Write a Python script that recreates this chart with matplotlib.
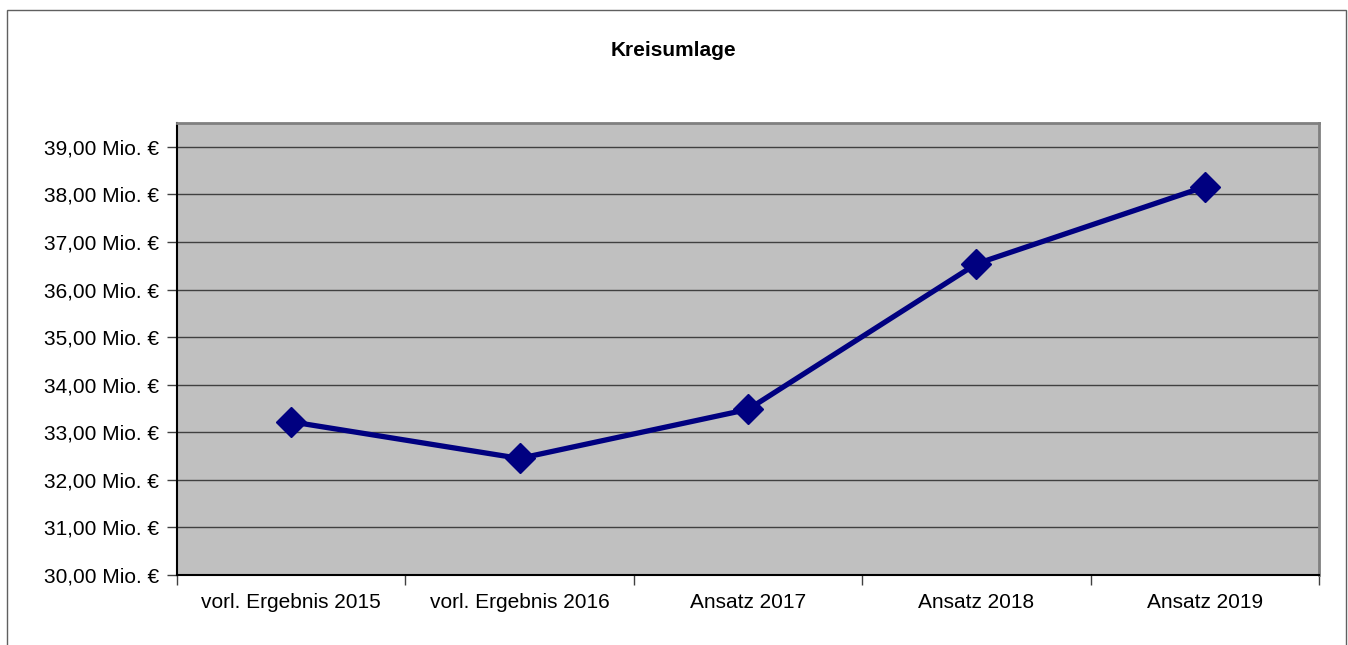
import matplotlib
matplotlib.use("Agg")
import matplotlib.pyplot as plt
from matplotlib.ticker import FixedLocator, FuncFormatter
from matplotlib.patches import Rectangle

categories = ["vorl. Ergebnis 2015", "vorl. Ergebnis 2016", "Ansatz 2017", "Ansatz 2018", "Ansatz 2019"]
values = [33.22, 32.45, 33.48, 36.54, 38.16]
y_ticks = [30, 31, 32, 33, 34, 35, 36, 37, 38, 39]
title = "Kreisumlage"

plt.rcParams['font.family'] = ['Liberation Sans', 'DejaVu Sans']

fig = plt.figure(figsize=(13.48, 6.45), dpi=100)
fig.patch.set_facecolor('white')

# outer chart frame
fig.patches.append(Rectangle((7/1348, -0.05), (1346-7)/1348, 1.05 - 10/645,
                             transform=fig.transFigure, fill=False,
                             edgecolor='#606060', linewidth=1.0, clip_on=False))

ax = fig.add_axes([177/1348, 1 - 575/645, (1319-177)/1348, (575-123)/645])
ax.set_facecolor('#c0c0c0')

x = list(range(len(categories)))
ax.plot(x, values, color='#000080', linewidth=3.8, marker='D', markersize=15,
        markerfacecolor='#000080', markeredgecolor='#000080', zorder=3, clip_on=False)

ax.set_xlim(-0.5, len(categories) - 0.5)
ax.set_ylim(30, 39.5)

ax.yaxis.set_major_locator(FixedLocator(y_ticks))
ax.yaxis.set_major_formatter(FuncFormatter(lambda v, p: f"{v:.2f}".replace('.', ',') + " Mio. €"))
ax.grid(axis='y', color='#404040', linewidth=1.0)
ax.set_axisbelow(True)

ax.set_xticks([i - 0.5 for i in range(len(categories) + 1)])
ax.set_xticklabels([])
ax.set_xticks(x, minor=True)
ax.set_xticklabels(categories, minor=True)
ax.tick_params(axis='x', which='minor', length=0, pad=13, labelsize=15)
ax.tick_params(axis='x', which='major', length=7, width=1, color='#404040')
ax.tick_params(axis='y', length=7, width=1, color='#404040', labelsize=15, pad=6)

for s in ['left', 'bottom']:
    ax.spines[s].set_color('black')
    ax.spines[s].set_linewidth(1.5)
for s in ['top', 'right']:
    ax.spines[s].set_color('#808080')
    ax.spines[s].set_linewidth(2.0)

fig.text(673/1348, 1 - 51/645, title, ha='center', va='center', fontsize=15, fontweight='bold')

fig.savefig("out.png", dpi=100)
